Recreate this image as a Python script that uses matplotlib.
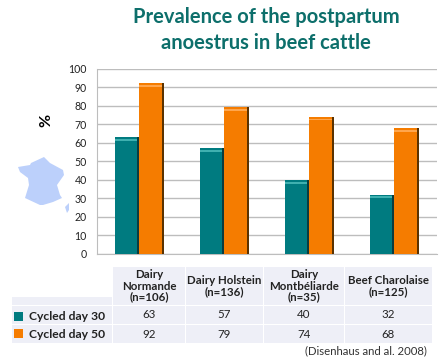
import matplotlib
matplotlib.use('Agg')
import matplotlib.pyplot as plt
import numpy as np
from matplotlib.patches import Rectangle, Polygon

breeds = ['Dairy\nNormande\n(n=106)', 'Dairy Holstein\n(n=136)', 'Dairy\nMontbéliarde\n(n=35)', 'Beef Charolaise\n(n=125)']
cycled_30 = [63, 57, 40, 32]
cycled_50 = [92, 79, 74, 68]
yticks = np.arange(0, 101, 10)

W, H = 442, 358
TEAL = '#007b80'
ORANGE = '#f57c00'
plt.rcParams['font.family'] = ['Lato', 'DejaVu Sans']

fig = plt.figure(figsize=(W/100, H/100), dpi=100, facecolor='white')

# overlay in pixel coordinates for the table, map and title
pix = fig.add_axes([0, 0, 1, 1], zorder=0)
pix.set_xlim(0, W)
pix.set_ylim(H, 0)
pix.axis('off')

ax = fig.add_axes([96.5/W, 1-254/H, 340.5/W, 185.5/H], zorder=1)
ax.patch.set_alpha(0)
x = np.arange(4)
width = 24.5/85
shade = 2/85
ax.bar(x - width/2, cycled_30, width, color=TEAL, zorder=3)
ax.bar(x + width/2, cycled_50, width, color=ORANGE, zorder=3)
# dark right side and light top of the 3d looking bars
ax.bar(x - shade/2, cycled_30, shade, color='#0b3c3e', zorder=4)
ax.bar(x + width - shade/2, cycled_50, shade, color='#5a3200', zorder=4)
ax.bar(x - width/2 - shade/2, 1, width - shade, bottom=np.array(cycled_30) - 2, color='#3fb0b0', zorder=4)
ax.bar(x + width/2 - shade/2, 1, width - shade, bottom=np.array(cycled_50) - 2, color='#ffa64d', zorder=4)
ax.set_xlim(-0.5, 3.5)
ax.set_ylim(0, 100)
ax.set_yticks(yticks)
ax.set_xticks([])
ax.tick_params(axis='y', length=0, labelsize=7.6, pad=7, labelcolor='#222222')
ax.grid(axis='y', color='#bdbdbd', linewidth=1, zorder=0)
for s in ['top', 'right']:
    ax.spines[s].set_visible(False)
for s in ['left', 'bottom']:
    ax.spines[s].set_color('#bdbdbd')
ax.text(-0.147, 0.72, '%', transform=ax.transAxes, rotation=90, fontsize=11.5,
        fontweight='bold', ha='center', va='center', color='black')

pix.text(266, 17, 'Prevalence of the postpartum', fontsize=14.5, fontweight='bold',
         color='#0d6f6b', ha='center', va='center')
pix.text(266, 43, 'anoestrus in beef cattle', fontsize=14.5, fontweight='bold',
         color='#0d6f6b', ha='center', va='center')

# table
cell = '#eeeff7'
col_x = [(113, 185), (186, 263), (264, 344), (345, 432)]
rows = [(306, 324, cycled_30), (325, 343, cycled_50)]
pix.add_patch(Rectangle((12, 297), 100, 46, color=cell, lw=0))
pix.add_patch(Rectangle((12, 305), 100, 1, color='white', lw=0))
pix.add_patch(Rectangle((12, 324), 100, 1, color='white', lw=0))
for (x0, x1), name in zip(col_x, breeds):
    pix.add_patch(Rectangle((x0, 267), x1-x0, 38, color=cell, lw=0))
    pix.text((x0+x1)/2, 286, name, fontsize=8.3, fontweight='bold', ha='center',
             va='center', color='#222222', linespacing=1.0)

for y0, y1, vals in rows:
    for (x0, x1), v in zip(col_x, vals):
        pix.add_patch(Rectangle((x0, y0), x1-x0, y1-y0, color=cell, lw=0))
        pix.text((x0+x1)/2, (y0+y1)/2, str(v), fontsize=8.3, ha='center', va='center', color='#222222')

pix.add_patch(Rectangle((13.5, 312), 9, 9, color=TEAL, lw=0))
pix.add_patch(Rectangle((13.5, 329), 9, 9, color=ORANGE, lw=0))
pix.text(29, 316, 'Cycled day 30', fontsize=8.7, fontweight='bold', va='center', color='#222222')
pix.text(29, 335, 'Cycled day 50', fontsize=8.7, fontweight='bold', va='center', color='#222222')
pix.text(427, 351, '(Disenhaus and al. 2008)', fontsize=8.2, ha='right', va='center', color='#333333')

# map of France
france = [(18, 167), (30, 165), (31, 163), (44, 157), (50, 163), (63, 170), (64, 175), (57, 185),
          (60, 195), (62, 198), (53, 202), (43, 205), (40, 205), (25, 198), (29, 185), (28, 178), (20, 172)]
corsica = [(65, 207), (69, 203), (69, 210), (67, 213)]
pix.add_patch(Polygon(france, closed=True, color='#bcd0fb', lw=0))
pix.add_patch(Polygon(corsica, closed=True, color='#bcd0fb', lw=0))

fig.savefig('out.png', dpi=100)
